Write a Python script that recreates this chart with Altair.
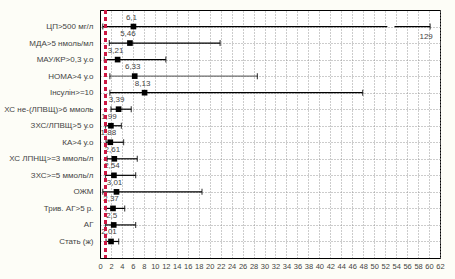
import altair as alt
import pandas as pd

# ---- data ----
names = ["ЦП>500 мг/л", "МДА>5 нмоль/мл", "МАУ/КР>0,3 у.о", "HOMA>4 у.о",
         "Інсулін>=10", "ХС не-(ЛПВЩ)>6 ммоль", "ЗХС/ЛПВЩ>5 у.о", "КА>4 у.о",
         "ХС ЛПНЩ>=3 ммоль/л", "ЗХС>=5 ммоль/л", "ОЖМ", "Трив. АГ>5 р.",
         "АГ", "Стать (ж)"]
or_vals = [6.1, 5.46, 3.21, 6.33, 8.13, 3.39, 1.99, 1.88, 2.61, 2.54, 3.01, 2.37, 2.5, 2.01]
or_text = ["6,1", "5,46", "3,21", "6,33", "8,13", "3,39", "1,99", "1,88", "2,61",
           "2,54", "3,01", "2,37", "2,5", "2,01"]
ci_lo = [0.5, 1.7, 0.8, 1.8, 1.8, 2.0, 1.0, 1.1, 1.3, 1.0, 0.5, 1.1, 1.0, 1.1]
ci_hi = [129, 21.9, 12.0, 28.7, 47.9, 5.7, 3.9, 4.3, 6.8, 6.5, 18.6, 4.5, 6.5, 3.4]
line_col = ["#000000", "#000000", "#000000", "#6e6e6e", "#000000", "#000000", "#000000",
            "#000000", "#000000", "#000000", "#000000", "#000000", "#000000", "#000000"]

x_ticks = list(range(0, 63, 2))
x_max = 62
ref_value = 1
# broken axis for values beyond the scale
shown_max = 60.2
break_from = 52.4
break_to = 53.7

rows = list(range(1, len(names) + 1))

df = pd.DataFrame({"row": rows, "name": names, "or": or_vals, "txt": or_text,
                   "lo": ci_lo, "hi": ci_hi, "col": line_col})
df["hi_end"] = [min(h, shown_max) for h in ci_hi]

seg_rows, seg_a, seg_b, seg_c = [], [], [], []
for r, lo, hi, c in zip(rows, ci_lo, ci_hi, line_col):
    if hi > x_max:
        seg_rows += [r, r]; seg_a += [lo, break_to]; seg_b += [break_from, shown_max]; seg_c += [c, c]
    else:
        seg_rows.append(r); seg_a.append(lo); seg_b.append(hi); seg_c.append(c)
segs = pd.DataFrame({"row": seg_rows, "a": seg_a, "b": seg_b, "col": seg_c})

caps = pd.DataFrame({"row": rows + rows, "v": ci_lo + list(df["hi_end"])})
over = df[df["hi"] > x_max].copy()
over["lab"] = [str(int(h)) for h in over["hi"]]

font = "Liberation Sans"
label_expr = "[" + ",".join("'" + n + "'" for n in names) + "][datum.value - 1]"

xs = alt.Scale(domain=[0, x_max], nice=False, zero=False)
ys = alt.Scale(domain=[0, len(names) + 1], reverse=True, nice=False, zero=False)

x_axis = alt.Axis(values=x_ticks, grid=True, gridDash=[1, 2], gridColor="#999999",
                  ticks=False, domainColor="black", labelFontSize=7.5, labelFont=font,
                  labelColor="#444", labelPadding=4, title=None, labelFlush=False,
                  labelOverlap=False)
y_axis = alt.Axis(values=rows, grid=True, gridDash=[1, 2], gridColor="#999999",
                  ticks=False, domainColor="black", labelFontSize=8, labelFont=font,
                  labelColor="#444", labelPadding=7, title=None, labelExpr=label_expr,
                  labelOverlap=False)

def X(f):
    return alt.X(f, type="quantitative", scale=xs, axis=x_axis)

def Y():
    return alt.Y("row", type="quantitative", scale=ys, axis=y_axis)

refline = alt.Chart(df).mark_rule(color="#cc1844", strokeWidth=1.8, strokeDash=[4, 3]).encode(
    x=alt.datum(ref_value, type="quantitative", scale=xs, axis=x_axis))

lines = alt.Chart(segs).mark_rule(strokeWidth=1.2).encode(
    x=X("a"), x2="b:Q", y=Y(), color=alt.Color("col:N", scale=None))

capm = alt.Chart(caps).mark_tick(orient="vertical", size=6, thickness=1.2, color="black").encode(
    x=X("v"), y=Y())

pts = alt.Chart(df).mark_square(size=32, color="black", opacity=1).encode(x=X("or"), y=Y())

lbl = alt.Chart(df).mark_text(dy=-9, dx=-2, fontSize=8, font=font, color="#444").encode(
    x=X("or"), y=Y(), text="txt:N")

over_lbl = alt.Chart(over).mark_text(dy=10, dx=-4, fontSize=8, font=font, color="#444").encode(
    x=X("hi_end"), y=Y(), text="lab:N")

chart = alt.layer(lines, capm, pts, lbl, over_lbl, refline).properties(
    width=340, height=248,
    padding={"left": 100, "top": 10, "right": 15, "bottom": 21},
    autosize=alt.AutoSizeParams(type="none"),
    background="#fdfdf7",
).configure_view(stroke="black", strokeWidth=1, fill="white"
).configure_axis(labelOverlap=False)

chart.save("out.html", embed_options={"renderer": "svg", "actions": False})
